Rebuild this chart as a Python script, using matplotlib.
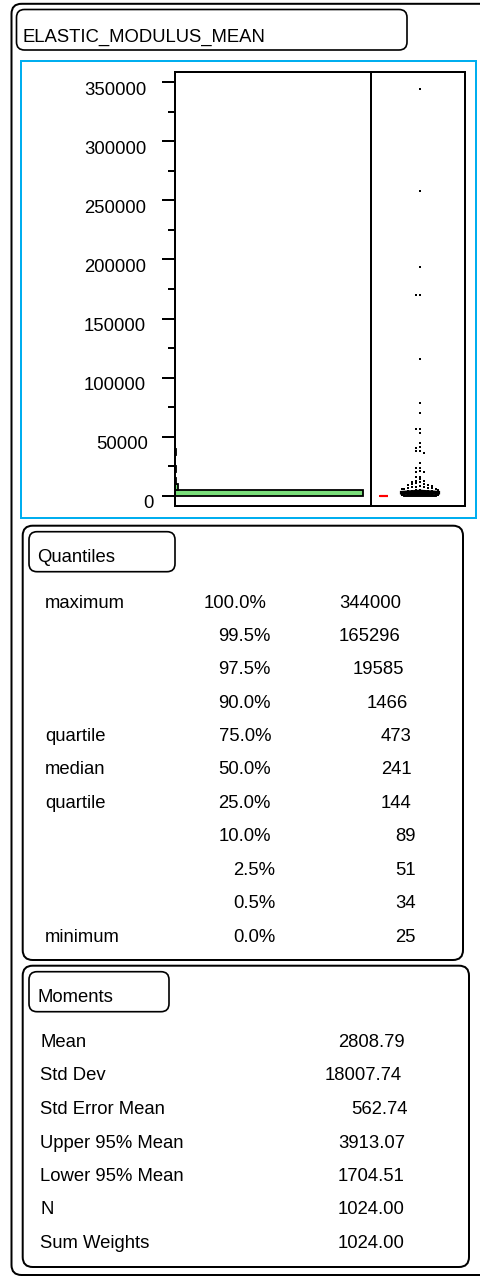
import numpy as np
import matplotlib
matplotlib.use("Agg")
import matplotlib.pyplot as plt
from matplotlib.patches import FancyBboxPatch, Polygon, Rectangle
from matplotlib.transforms import ScaledTranslation

# ---------------------------------------------------------------- data
column_name = "ELASTIC_MODULUS_MEAN"

# histogram: bin width and total number of rows
bin_width = 5000
n_total = 1024

# individual high values (upper tail) shown as points in the box plot panel
tail_values = [
    344000, 258000, 194000, 170300, 170300, 116200, 78900, 70500,
    57000, 56800, 53600, 45100, 41700, 40900, 38300, 38000, 36600,
    28200, 24000, 23700, 21400, 20600, 20000, 16300, 16000,
    14400, 13000, 12900, 12000, 11500, 11000, 10200, 9800, 9500, 9000,
    8600, 8200, 7900, 7500, 7200, 6900, 6600, 6300, 6000, 5800, 5500,
    5200, 5000, 4800, 4600, 4400, 4200, 4000, 3800, 3600, 3400, 3200,
    3000, 2900, 2800, 2700, 2600, 2500, 2400, 2300, 2200, 2100, 2000,
    1900, 1800, 1700, 1600, 1500, 1450, 1400, 1350, 1300, 1250, 1200,
    1150, 1100, 1050, 1000,
]

# box plot summary
box_q1, box_median, box_q3 = 144, 241, 473
whisker_low, whisker_high = 25, 960
shortest_half = (98, 372)

quantile_names = ["maximum", "", "", "", "quartile", "median", "quartile",
                  "", "", "", "minimum"]
quantile_pcts = ["100.0%", "99.5%", "97.5%", "90.0%", "75.0%", "50.0%",
                 "25.0%", "10.0%", "2.5%", "0.5%", "0.0%"]
quantile_vals = [344000, 165296, 19585, 1466, 473, 241, 144, 89, 51, 34, 25]

moment_names = ["Mean", "Std Dev", "Std Error Mean", "Upper 95% Mean",
                "Lower 95% Mean", "N", "Sum Weights"]
moment_vals = [2808.79, 18007.74, 562.74, 3913.07, 1704.51, 1024.00, 1024.00]

y_major = list(range(0, 350001, 50000))
y_minor = list(range(25000, 350001, 50000))

# ---------------------------------------------------------------- layout
W, H, DPI = 480, 1277, 100
FONT = "Liberation Sans"
FS = 13.3
CYAN = "#00AEEF"
GREEN = "#7ADF7A"
LW = 1.44  # 2 px

plt.rcParams["font.family"] = [FONT, "DejaVu Sans"]
fig = plt.figure(figsize=(W / DPI, H / DPI), dpi=DPI)

overlay = fig.add_axes([0, 0, 1, 1])
overlay.set_xlim(0, W)
overlay.set_ylim(H, 0)
overlay.axis("off")


def px_axes(x0, y0, x1, y1, **kw):
    return fig.add_axes([x0 / W, 1 - y1 / H, (x1 - x0) / W, (y1 - y0) / H], **kw)


def rbox(x0, y0, x1, y1, r=8, lw=1.1, ec="black"):
    overlay.add_patch(FancyBboxPatch((x0, y0), x1 - x0, y1 - y0,
                                     boxstyle=f"round,pad=0,rounding_size={r}",
                                     fc="none", ec=ec, lw=lw, clip_on=False))


def txt(x, y, s):
    overlay.text(x, y, s, fontsize=FS, va="center_baseline", ha="left")


# outer report frame and title
rbox(11.5, 3.8, 520, 1275, r=10, lw=LW)
rbox(16.5, 9.5, 407, 50, r=8, lw=1.2)
txt(23, 35, column_name)

# cyan frame around the graph
overlay.add_patch(Rectangle((21, 60.5), 455, 457, fc="none", ec=CYAN, lw=LW))

# ---------------------------------------------------------------- histogram
hx0, hx1, bx1 = 175, 371, 465
gy0, gy1 = 72, 506
ylo, yhi = -8500, 358500

ax = px_axes(hx0, gy0, hx1, gy1)
axb = px_axes(hx1, gy0, bx1, gy1, sharey=ax)
axb.patch.set_visible(False)

tail = np.array(tail_values, dtype=float)
edges = np.arange(0, 350000 + bin_width, bin_width)
counts, _ = np.histogram(tail[tail >= bin_width], bins=edges)
counts[0] += n_total - np.count_nonzero(tail >= bin_width)

nz = counts > 0
ax.barh(edges[:-1][nz], counts[nz], height=bin_width, align="edge",
        color=GREEN, edgecolor="black", linewidth=1.3)
ax.set_xlim(0, counts.max() * 196 / 188)
ax.set_ylim(ylo, yhi)

for s in ax.spines.values():
    s.set_linewidth(LW)
ax.set_xticks([])
ax.set_yticks(y_major)
ax.set_yticks(y_minor, minor=True)
ax.set_yticklabels([])
ax.tick_params(axis="y", which="major", direction="out", length=9.4, width=LW)
ax.tick_params(axis="y", which="minor", direction="out", length=5.0, width=LW)

# axis labels, anchored at their left edge like the report renderer does
for v in y_major:
    s = str(v)
    ypx = gy1 - (v - ylo) * (gy1 - gy0) / (yhi - ylo) + 6
    txt(84 + 11.8 * (6 - len(s)), ypx, s)

# ---------------------------------------------------------------- box plot
axb.set_xlim(0, 1)
axb.spines["left"].set_visible(False)
for s in axb.spines.values():
    s.set_linewidth(LW)
axb.tick_params(which="both", left=False, labelleft=False, bottom=False,
                labelbottom=False)

panel_px = bx1 - hx1
cx = (420 - hx1) / panel_px
hw = 20 / panel_px
px_per_unit = (gy1 - gy0) / (yhi - ylo)


def spread(vals, row_px=4.0, step_px=4.0, max_px=18.0):
    """Spread overlapping points sideways, alternating right/left."""
    offs = np.zeros(len(vals))
    used = {}
    for i in np.argsort(vals)[::-1]:
        r = int(round(vals[i] * px_per_unit / row_px))
        k = used.get(r, 0)
        used[r] = k + 1
        mag = min(((k + 1) // 2) * step_px, max_px)
        offs[i] = -mag if k % 2 else mag
    return offs / panel_px


# mean diamond
mean, up95, lo95 = moment_vals[0], moment_vals[3], moment_vals[4]
axb.add_patch(Polygon([(cx, lo95), (cx + hw, mean), (cx, up95), (cx - hw, mean)],
                      closed=True, fc="black", ec="black", lw=2.4))
# box and whiskers
axb.add_patch(Rectangle((cx - hw * 0.8, box_q1), 1.6 * hw, box_q3 - box_q1,
                        fc="none", ec="black", lw=1.2))
axb.plot([cx - hw * 0.8, cx + hw * 0.8], [box_median] * 2, color="black", lw=1.2)
axb.plot([cx, cx], [whisker_low, box_q1], color="black", lw=1.0)
axb.plot([cx, cx], [box_q3, whisker_high], color="black", lw=1.0)

# shortest half bracket
bl, br = (380 - hx1) / panel_px, (388 - hx1) / panel_px
axb.plot([br, bl, bl, br], [shortest_half[0], shortest_half[0],
                            shortest_half[1], shortest_half[1]],
         color="red", lw=1.5, solid_capstyle="butt")

# outlying points
axb.plot(cx + spread(tail), tail, ls="none", marker="s", ms=1.7,
         mfc="black", mec="black", mew=0)

# ---------------------------------------------------------------- quantiles
rbox(22.7, 525.7, 463, 960, r=10, lw=LW)
rbox(29, 531.7, 175, 571.7, r=8, lw=1.2)
txt(37.5, 555, "Quantiles")

q_row0, q_step = 601, 33.4
for i, (nm, pc, v) in enumerate(zip(quantile_names, quantile_pcts, quantile_vals)):
    y = q_row0 + i * q_step
    txt(45, y, nm)
    txt(204 + 14.5 * (6 - len(pc)), y, pc)
    s = str(v)
    txt(339 + 14 * (6 - len(s)), y, s)

# ---------------------------------------------------------------- moments
rbox(22.7, 965.7, 469, 1267, r=10, lw=LW)
rbox(29, 971.7, 169, 1011.7, r=8, lw=1.2)
txt(37.5, 995, "Moments")

m_row0, m_step = 1040.5, 33.5
for i, (nm, v) in enumerate(zip(moment_names, moment_vals)):
    y = m_row0 + i * m_step
    txt(40, y, nm)
    s = f"{v:.2f}"
    txt(338 + 13 * (7 - len(s)), y, s)

fig.savefig("out.png", dpi=DPI)
